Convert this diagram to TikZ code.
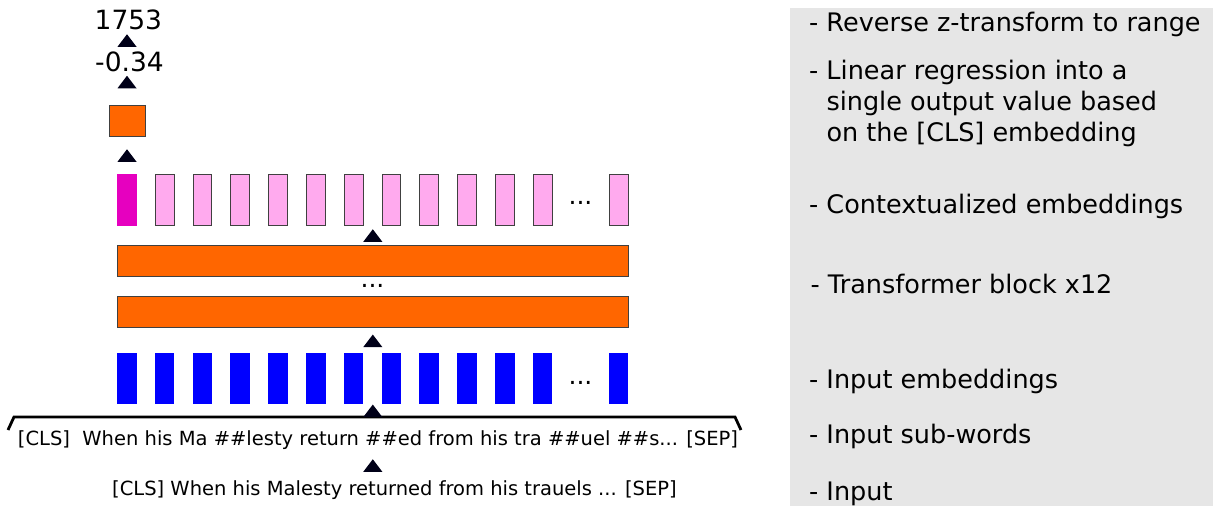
\documentclass[tikz,border=0pt]{standalone}
\usepackage{fontspec}
\setmainfont{DejaVu Sans}
\definecolor{orng}{HTML}{FF6600}
\definecolor{magc}{HTML}{E600BF}
\definecolor{pinkc}{HTML}{FFAAEE}
\definecolor{bluec}{HTML}{0000FF}
\definecolor{panelc}{HTML}{E6E6E6}
\definecolor{tric}{HTML}{000018}
\definecolor{bordc}{HTML}{404040}
\newcommand\uptri[1]{\fill[tric,shift={(#1)}] (-9.5,6.25) -- (9.5,6.25) -- (0,-6.25) -- cycle;}
\begin{document}
\begin{tikzpicture}[x=1pt,y=-1pt,
  bar/.style={inner sep=0pt,outer sep=0pt,minimum width=19.5pt,minimum height=52pt},
  ctx/.style={bar,fill=pinkc,draw=bordc,line width=0.8pt,minimum width=18.7pt,minimum height=51.2pt},
  cls/.style={bar,fill=magc},
  emb/.style={bar,fill=bluec,minimum height=51.6pt},
  block/.style={inner sep=0pt,outer sep=0pt,fill=orng,draw=bordc,line width=1pt},
  dotsl/.style={anchor=base,inner sep=0pt,font=\fontsize{25}{30}\selectfont},
  num/.style={anchor=base,inner sep=0pt,font=\fontsize{26.5}{32}\selectfont},
  tok/.style={anchor=base,inner sep=0pt,font=\fontsize{19.5}{24}\selectfont},
  side/.style={anchor=base west,inner sep=0pt,font=\fontsize{25.5}{31}\selectfont},
  bracel/.style={line width=2.8pt,line join=miter}
]
\useasboundingbox (0,0) rectangle (1213,506);
% side panel
\fill[panelc] (790,8) rectangle (1213,506);
\node[side] (s1) at (809,31.7) {- Reverse z-transform to range};
\node[side] (s2) at (809,79.3) {- Linear regression into a};
\node[side] (s2b) at (809,110.3) {\hphantom{- }single output value based};
\node[side] (s2c) at (809,141.5) {\hphantom{- }on the [CLS] embedding};
\node[side] (s3) at (809,213.3) {- Contextualized embeddings};
\node[side] (s4) at (810.5,293.3) {- Transformer block x12};
\node[side] (s5) at (809,388.3) {- Input embeddings};
\node[side] (s6) at (809,443.3) {- Input sub-words};
\node[side] (s7) at (809,500) {- Input};
% outputs
\node[num] (v2) at (128.4,29.3) {1753};
\node[num] (v1) at (129.5,71.7) {-0.34};
\node[block,minimum width=36pt,minimum height=31pt] (sq) at (127.5,121) {};
% contextualized embeddings
\node[cls] (c0) at (126.75,200) {};
\foreach \k in {1,...,11} {\node[ctx] (c\k) at (126.75+37.8*\k,200) {};}
\node[ctx] (cl) at (618.7,200) {};
\node[dotsl] (cd) at (580.5,204.8) {...};
% transformer blocks
\node[block,minimum width=511pt,minimum height=31pt] (b2) at (372.5,260.8) {};
\node[dotsl] (bd) at (372.5,287.8) {...};
\node[block,minimum width=511pt,minimum height=31pt] (b1) at (372.5,311.8) {};
% input embeddings
\foreach \k in {0,...,11} {\node[emb] (e\k) at (126.75+37.8*\k,378.5) {};}
\node[emb] (el) at (618.7,378.5) {};
\node[dotsl] (ed) at (580.5,384.5) {...};
% brace
\coordinate (br1) at (8,430);
\coordinate (br2) at (14,417);
\coordinate (br3) at (735,417);
\coordinate (br4) at (741,430);
\draw[bracel] (br1) -- (br2) -- (br3) -- (br4);
% texts
\node[tok] (sub) at (378,445.5) {[CLS]\ \ When his Ma \#\#lesty return \#\#ed from his tra \#\#uel \#\#s... [SEP]};
\node[tok] (inp) at (394.5,495) {[CLS] When his Malesty returned from his trauels ... [SEP]};
% arrowheads
\coordinate (t1) at (127,40.5);
\coordinate (t2) at (127,82);
\coordinate (t3) at (127,155.5);
\coordinate (t4) at (372.8,235.5);
\coordinate (t5) at (372.8,340.8);
\coordinate (t6) at (372.8,410.8);
\coordinate (t7) at (372.8,465.5);
\foreach \t in {t1,t2,t3,t4,t5,t6,t7} {\uptri{\t}}
\end{tikzpicture}
\end{document}
